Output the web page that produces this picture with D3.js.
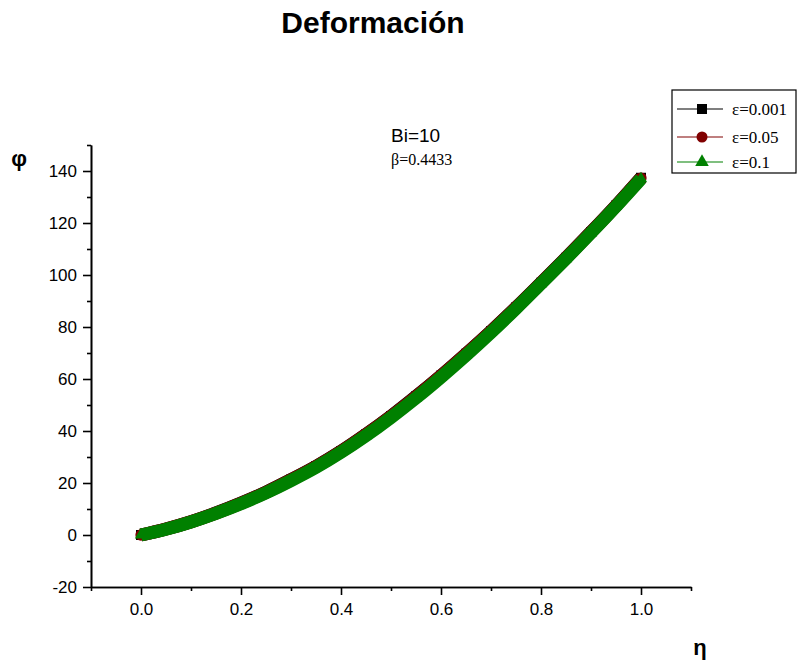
<!DOCTYPE html>
<html>
<head>
<meta charset="utf-8">
<script src="https://cdn.jsdelivr.net/npm/d3@7"></script>
<style>
  body { margin: 0; background: #fff; }
  text { font-family: "Liberation Sans", Arial, sans-serif; }
</style>
</head>
<body>
<div id="chart"></div>
<script>
const width = 797, height = 662
const plot = {left: 91, right: 691, top: 145, bottom: 587}

// data
const eta = [0, 0.05, 0.1, 0.15, 0.2, 0.25, 0.3, 0.35, 0.4, 0.45, 0.5,
             0.55, 0.6, 0.65, 0.7, 0.75, 0.8, 0.85, 0.9, 0.95, 1.0]
const phi001 = [0, 2.3, 5.1, 8.5, 12.3, 16.5, 21.3, 26.4, 32.2, 38.7, 45.7,
                53.3, 61.3, 69.7, 78.4, 87.5, 97.0, 106.6, 116.5, 126.7, 137.4]
const phi05 = [0, 2.3, 5.1, 8.4, 12.2, 16.4, 21.2, 26.3, 32.1, 38.6, 45.6,
               53.2, 61.2, 69.6, 78.3, 87.4, 96.9, 106.5, 116.4, 126.6, 137.3]
const phi1 = [0, 2.2, 5.0, 8.3, 12.0, 16.2, 20.9, 26.0, 31.8, 38.2, 45.2,
              52.7, 60.7, 69.1, 77.9, 87.1, 96.7, 106.3, 116.2, 126.4, 137.0]

const seriesNames = ["ε=0.001", "ε=0.05", "ε=0.1"]
const seriesColors = ["#000000", "#800000", "#008000"]
const seriesSymbols = [d3.symbolSquare, d3.symbolCircle, d3.symbolTriangle]
const seriesValues = [phi001, phi05, phi1]

const xMajor = [0, 0.2, 0.4, 0.6, 0.8, 1.0]
const xMinor = [-0.1, 0.1, 0.3, 0.5, 0.7, 0.9, 1.1]
const yMajor = [-20, 0, 20, 40, 60, 80, 100, 120, 140]
const yMinor = [-10, 10, 30, 50, 70, 90, 110, 130, 150]

const xScale = d3.scaleLinear().domain([-0.1, 1.1]).range([plot.left, plot.right])
const yScale = d3.scaleLinear().domain([-20, 150]).range([plot.bottom, plot.top])

const svg = d3.select("#chart").append("svg")
    .attr("width", width)
    .attr("height", height)

// title
svg.append("text")
    .attr("x", 373).attr("y", 33)
    .attr("text-anchor", "middle")
    .style("font-size", "30px")
    .style("font-weight", "bold")
    .text("Deformación")

// axes
function styleAxis(g) {
    g.selectAll("path, line").attr("stroke", "#000").attr("stroke-width", 1.6)
    g.selectAll("text").style("font-size", "17px").attr("fill", "#000")
        .style("font-family", '"Liberation Sans", Arial, sans-serif')
}

svg.append("g")
    .attr("transform", "translate(0," + plot.bottom + ")")
    .call(d3.axisBottom(xScale).tickValues(xMinor).tickSize(4).tickSizeOuter(0).tickFormat(""))
    .call(styleAxis)
svg.append("g")
    .attr("transform", "translate(0," + plot.bottom + ")")
    .call(d3.axisBottom(xScale).tickValues(xMajor).tickSize(8).tickSizeOuter(0)
        .tickPadding(8).tickFormat(d => d.toFixed(1)))
    .call(styleAxis)

svg.append("g")
    .attr("transform", "translate(" + plot.left + ",0)")
    .call(d3.axisLeft(yScale).tickValues(yMinor).tickSize(4).tickSizeOuter(0).tickFormat(""))
    .call(styleAxis)
svg.append("g")
    .attr("transform", "translate(" + plot.left + ",0)")
    .call(d3.axisLeft(yScale).tickValues(yMajor).tickSize(8).tickSizeOuter(0).tickPadding(6)
        .tickFormat(d => String(d)))
    .call(styleAxis)

// axis labels
svg.append("text")
    .attr("x", 19).attr("y", 166)
    .attr("text-anchor", "middle")
    .style("font-size", "22px").style("font-weight", "bold")
    .text("φ")
svg.append("text")
    .attr("x", 700).attr("y", 655)
    .attr("text-anchor", "middle")
    .style("font-size", "22px").style("font-weight", "bold")
    .text("η")

// annotations
svg.append("text")
    .attr("x", 391).attr("y", 142)
    .style("font-size", "19px")
    .text("Bi=10")
svg.append("text")
    .attr("x", 391).attr("y", 165)
    .style("font-size", "16px")
    .style("font-family", '"Liberation Serif", "Times New Roman", serif')
    .text("β=0.4433")

// series: thick band of dense markers
const line = d3.line()
    .x((d, i) => xScale(eta[i]))
    .y(d => yScale(d))
    .curve(d3.curveMonotoneX)

seriesValues.forEach((vals, s) => {
    const g = svg.append("g")
    g.append("path")
        .datum(vals)
        .attr("d", line)
        .attr("fill", "none")
        .attr("stroke", seriesColors[s])
        .attr("stroke-width", 13)
    g.selectAll("path.marker")
        .data(vals)
        .enter().append("path")
        .attr("class", "marker")
        .attr("transform", (d, i) => "translate(" + xScale(eta[i]) + "," + yScale(d) + ")")
        .attr("d", d3.symbol().type(seriesSymbols[s]).size(s == 2 ? 66 : 100))
        .attr("fill", seriesColors[s])
})

// legend
const legend = svg.append("g")
legend.append("rect")
    .attr("x", 672).attr("y", 90)
    .attr("width", 124).attr("height", 83)
    .attr("fill", "#fff")
    .attr("stroke", "#000")
    .attr("stroke-width", 1.2)

const legendY = [109, 137, 162]
seriesNames.forEach((name, s) => {
    legend.append("line")
        .attr("x1", 677).attr("x2", 723)
        .attr("y1", legendY[s]).attr("y2", legendY[s])
        .attr("stroke", seriesColors[s])
        .attr("stroke-width", 1.2)
    legend.append("path")
        .attr("transform", "translate(702," + legendY[s] + ")")
        .attr("d", d3.symbol().type(seriesSymbols[s]).size([100, 95, 80][s]))
        .attr("fill", seriesColors[s])
    legend.append("text")
        .attr("x", 732).attr("y", legendY[s] + 6)
        .style("font-size", "17px")
        .style("font-family", '"Liberation Serif", "Times New Roman", serif')
        .text(name)
})
</script>
</body>
</html>
